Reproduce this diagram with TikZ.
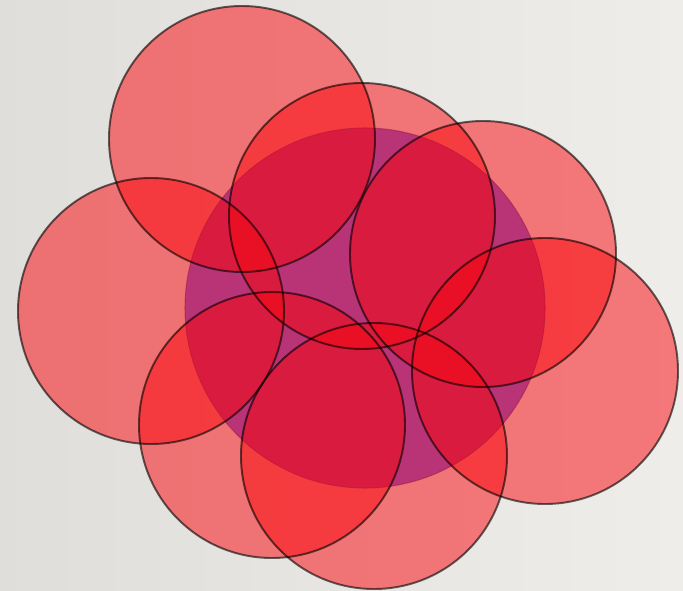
\documentclass[tikz,border=0pt]{standalone}
\usepackage{xcolor}
\usetikzlibrary{calc, positioning}

\definecolor{bgleft}{RGB}{224,222,218}
\definecolor{bgright}{RGB}{238,237,234}
\definecolor{blobred}{RGB}{250,4,10}
\definecolor{corepurple}{RGB}{184,52,118}
\definecolor{coreedge}{RGB}{165,30,70}

\tikzset{
  blobfill/.style={fill=blobred, fill opacity=0.5},
  blobline/.style={draw=black, draw opacity=0.6, line width=1.1pt},
  core/.style={fill=corepurple, draw=coreedge, draw opacity=0.6, line width=0.6pt}
}

\begin{document}
\begin{tikzpicture}[x=0.02cm, y=-0.02cm]
\def\rad{133}
\def\corerad{180}

% background
\shade[left color=bgleft, right color=bgright] (0,0) rectangle (683,591);
\useasboundingbox (0,0) rectangle (683,591);

\coordinate (O) at (365,308);
\foreach \name/\cx/\cy in {A/242/139, B/362/216, C/483/254, D/151/311,
                           E/545/371, F/272/425, G/374/456}
  \coordinate (\name) at (\cx,\cy);

% red discs, outside the core
\foreach \name in {A,B,C,D,E,F,G}
  \fill[blobfill] (\name) circle (\rad);

% the core
\draw[core] (O) circle (\corerad);

% inside the core: one layer less than outside
\begin{scope}
  \clip (O) circle (\corerad);
  \foreach \cur/\prevs in {B/A, C/{A,B}, D/{A,B,C}, E/{A,B,C,D},
                           F/{A,B,C,D,E}, G/{A,B,C,D,E,F}}{
    \begin{scope}
      \clip (\cur) circle (\rad);
      \fill[blobfill] \foreach \p in \prevs {(\p) circle (\rad)};
    \end{scope}
  }
\end{scope}

% outlines on top
\foreach \name in {A,B,C,D,E,F,G}
  \draw[blobline] (\name) circle (\rad);
\end{tikzpicture}
\end{document}
